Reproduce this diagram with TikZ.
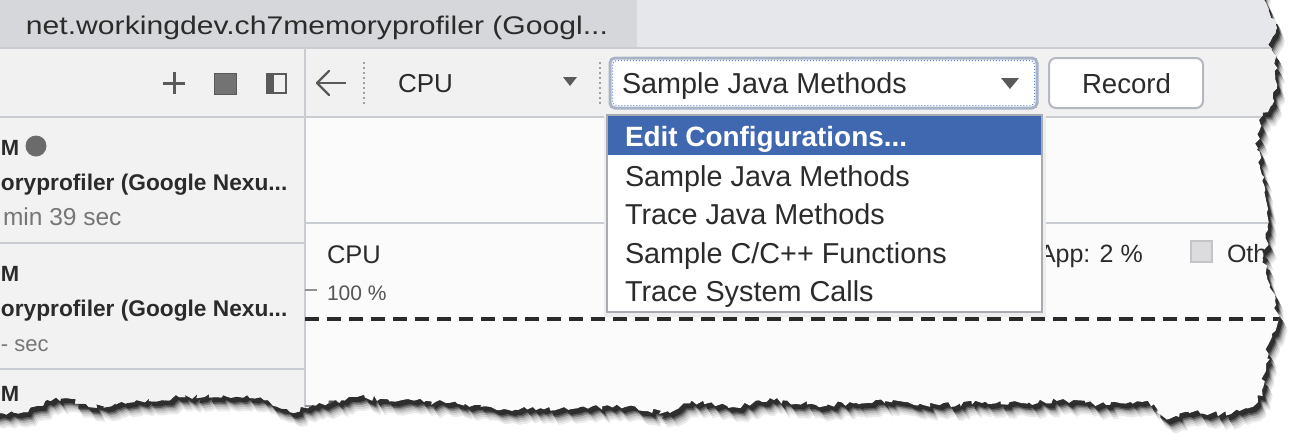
\documentclass[tikz,border=0pt]{standalone}
\usepackage{fontspec}
\setmainfont{Liberation Sans}
\usetikzlibrary{decorations.pathmorphing}
\definecolor{titlebg}{HTML}{D6D7DA}
\definecolor{titlebgb}{HTML}{E6E7EA}
\definecolor{barbg}{HTML}{F1F1F2}
\definecolor{listbg}{HTML}{F2F2F3}
\definecolor{panelbg}{HTML}{FBFBFB}
\definecolor{linec}{HTML}{C9CCD1}
\definecolor{ink}{HTML}{2B2B2B}
\definecolor{dim}{HTML}{767676}
\definecolor{iconc}{HTML}{5A5A5A}
\definecolor{selblue}{HTML}{4068B0}
\definecolor{ringc}{HTML}{A9B3C6}
\definecolor{ringdot}{HTML}{5E83D0}
\definecolor{btnline}{HTML}{B4B8C0}
\definecolor{menuline}{HTML}{A8ABB0}
\definecolor{boxfill}{HTML}{DCDCDE}
\definecolor{boxline}{HTML}{C2C4C8}
\newcommand{\fs}[1]{\fontsize{#1}{#1}\selectfont}
\newcommand{\tearpath}{(-20,-20) -- (1265,-20) -- (1264,0) -- (1270,15) -- (1276,30) -- (1268,45) -- (1275,60) -- (1277,85) -- (1272,105) -- (1259,120) -- (1257,150) -- (1262,175) -- (1266,200) -- (1268,230) -- (1263,260) -- (1270,285) -- (1276,305) -- (1278,322) -- (1268,345) -- (1266,370) -- (1262,390) -- (1258,402) -- (1231,414) -- (1189,412) -- (1169,419) -- (1148,401) -- (1106,405) -- (1065,400) -- (1023,403) -- (982,403) -- (940,405) -- (899,401) -- (857,403) -- (816,405) -- (774,400) -- (733,407) -- (691,401) -- (670,413) -- (625,407) -- (580,407) -- (536,410) -- (491,407) -- (446,403) -- (402,400) -- (357,397) -- (312,405) -- (290,412) -- (268,400) -- (223,395) -- (179,397) -- (134,402) -- (89,407) -- (67,398) -- (45,401) -- (28,412) -- (0,413) -- (-20,413) -- cycle}
\tikzset{
  txt/.style={inner sep=0pt, outer sep=0pt, anchor=base west, text=ink},
  sepline/.style={draw=linec, line width=1.5pt},
  tearshape/.style={decorate, decoration={random steps, segment length=4pt, amplitude=2.8pt}},
  iconline/.style={draw=iconc, line width=2.2pt},
  dotsep/.style={draw=dim!70, line width=2pt, dash pattern=on 2pt off 3pt},
  menuitem/.style={txt, font=\fs{28.8}},
}
\begin{document}
\begin{tikzpicture}[x=1pt, y=-1pt]
\useasboundingbox (0,0) rectangle (1300,440);
\fill[white] (0,0) rectangle (1300,440);
% shadow of the torn sheet
\foreach \dx/\dy/\c in {8/14/black!8, 7/12/black!16, 6/10/black!28, 5/8/black!45, 4/6.5/black!65, 3/5/black!82}{
  \pgfmathsetseed{4242}
  \fill[\c, tearshape, xshift=\dx pt, yshift=-\dy pt] \tearpath;
}
\begin{scope}
\pgfmathsetseed{4242}
\clip[tearshape] \tearpath;
\fill[panelbg] (-20,-20) rectangle (1320,460);
% title bar
\fill[titlebg] (-20,-20) rectangle (637,47);
\fill[titlebgb] (637,-20) rectangle (1320,47);
\draw[linec, line width=2pt] (-20,48) -- (1320,48);
\node[txt, text=ink] (title) at (26,34) {\fs{25.5}\resizebox{582pt}{\height}{net.workingdev.ch7memoryprofiler (Googl...}};
% toolbar
\fill[barbg] (-20,49) rectangle (1320,117);
\draw[sepline] (-20,117) -- (1320,117);
% session list
\fill[listbg] (-20,118) rectangle (305,460);
\draw[sepline] (305,49) -- (305,460);
\draw[sepline] (-20,243) -- (305,243);
\draw[sepline] (-20,369) -- (305,369);
\draw[sepline] (305,223) -- (1320,223);
% left toolbar icons
\draw[iconline, line width=3pt] (163,83) -- (185,83);
\draw[iconline, line width=3pt] (174,72) -- (174,94);
\fill[iconc!85] (214,73) rectangle (236,94);
\draw[iconc, line width=1pt] (214,73) rectangle (236,94);
\draw[iconline, line width=2pt] (267,74) rectangle (286,93);
\fill[iconc] (267,74) rectangle (274,93);
% right toolbar
\draw[iconline] (346,83) -- (317,83);
\draw[iconline, line cap=round, line join=round] (329,71) -- (317,83) -- (329,95);
\draw[dotsep] (364,62) -- (364,104);
\node[txt] (cpusel) at (398,92) {\fs{26}CPU};
\fill[iconc] (563,77) -- (577,77) -- (570,86) -- cycle;
\draw[dotsep] (600,62) -- (600,104);
\draw[ringc, line width=3pt, fill=white, rounded corners=5pt] (610,58) rectangle (1037,108);
\draw[ringdot, line width=1pt, dotted, rounded corners=4pt] (612.5,60.5) rectangle (1034.5,105.5);
\node[txt] (mode) at (622,93) {\fs{28.8}Sample Java Methods};
\fill[iconc] (1001,78) -- (1019,78) -- (1010,89) -- cycle;
\draw[btnline, line width=2pt, fill=white, rounded corners=7pt] (1049,58) rectangle (1203,108);
\node[txt] (record) at (1082,93) {\fs{27.6}Record};
% left list texts
\node[txt] (m1) at (1,155) {\fs{22}\bfseries M};
\fill[iconc!90] (36,146) circle[radius=10.5pt];
\node[txt] (n1) at (1,190) {\fs{22.7}\bfseries oryprofiler (Google Nexu...};
\node[txt, text=dim] (t1) at (3,225) {\fs{24.5}min 39 sec};
\node[txt] (m2) at (1,281) {\fs{22}\bfseries M};
\node[txt] (n2) at (1,316) {\fs{22.7}\bfseries oryprofiler (Google Nexu...};
\node[txt, text=dim] (t2) at (1,351) {\fs{22}- sec};
\node[txt] (m3) at (1,401) {\fs{22}\bfseries M};
% CPU chart
\node[txt] (cpu) at (327,263) {\fs{25.5}CPU};
\draw[dim!80, line width=1.5pt] (305,290) -- (317,290);
\node[txt, text=ink!80] (p100) at (327,300) {\fs{21}100 \%};
\draw[ink, line width=3.5pt, dash pattern=on 14pt off 8pt] (305,319) -- (1320,319);
\draw[dim!80, line width=1.5pt] (305,406) -- (317,406);
\node[txt, text=ink!80] (p50) at (327,415) {\fs{21}5};
\node[txt] (app) at (1039,262) {\fs{25}App: 2 \%};
\draw[boxline, fill=boxfill, line width=1.5pt] (1191,241) rectangle (1212,262);
\node[txt] (oth) at (1227,262) {\fs{25}Oth};
% dropdown menu
\fill[black!7] (604,116) rectangle (1046,317);
\draw[menuline, fill=white, line width=1.5pt] (607,115) rectangle (1042,312);
\fill[selblue] (608,116) rectangle (1041,155);
\node[txt, text=white] (edit) at (625,146) {\fs{27.9}\bfseries Edit Configurations...};
\node[menuitem] (i1) at (625,186) {Sample Java Methods};
\node[menuitem] (i2) at (625,224.5) {Trace Java Methods};
\node[menuitem] (i3) at (625,263) {Sample C/C++ Functions};
\node[menuitem] (i4) at (625,301.5) {Trace System Calls};
\end{scope}
\end{tikzpicture}
\end{document}
